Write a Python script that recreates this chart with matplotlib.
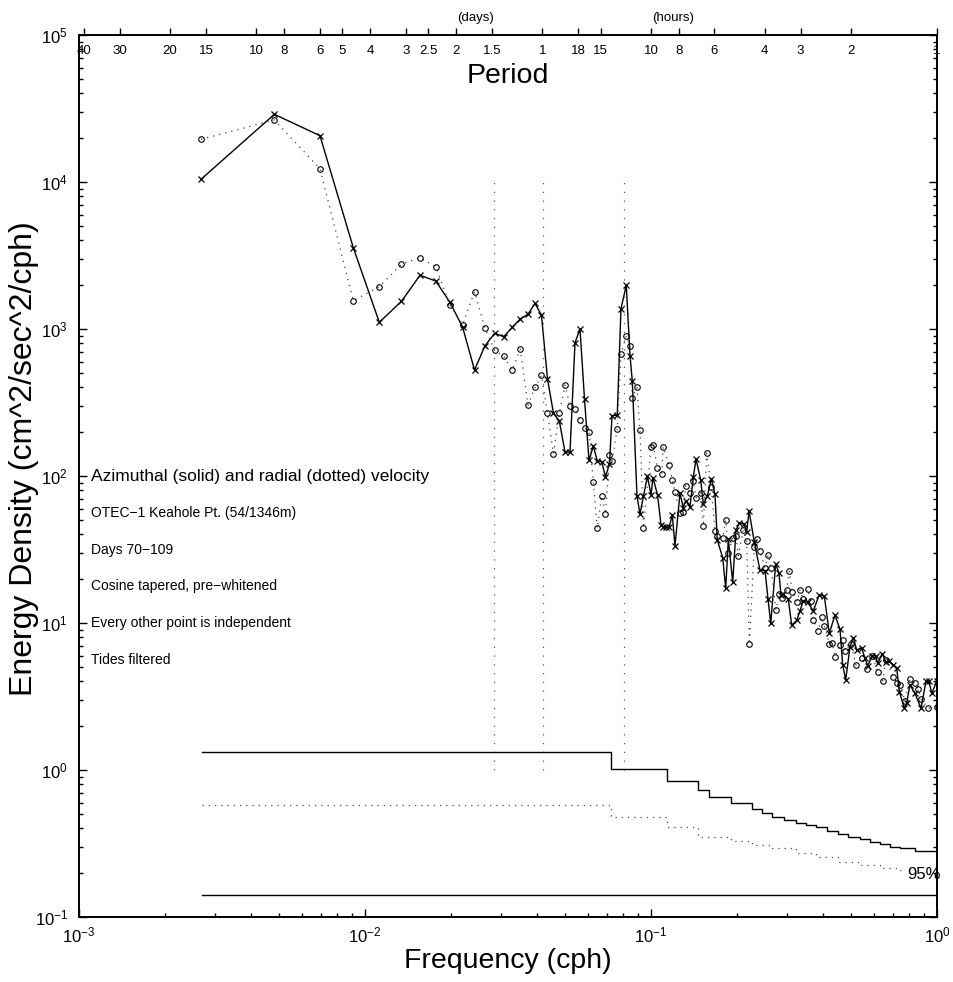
import matplotlib
matplotlib.use("Agg")
import matplotlib.pyplot as plt
from matplotlib.ticker import FixedLocator, NullLocator, NullFormatter

plt.rcParams['font.family'] = ['Liberation Sans', 'DejaVu Sans']
plt.rcParams['mathtext.fontset'] = 'custom'
plt.rcParams['mathtext.rm'] = 'Liberation Sans'
plt.rcParams['mathtext.it'] = 'Liberation Sans:italic'
plt.rcParams['mathtext.bf'] = 'Liberation Sans:bold'

# ---------------- data ----------------
# Azimuthal velocity spectrum (solid, x markers)
freq_az = [0.00267, 0.00482, 0.00696, 0.00910, 0.01122, 0.01341, 0.01557, 0.01767,
           0.01982, 0.02196, 0.02415, 0.02628, 0.02841, 0.03055, 0.03273, 0.03491,
           0.03714, 0.03930, 0.04141, 0.04346, 0.04561, 0.04779, 0.05003, 0.05209,
           0.05424, 0.05646, 0.05855, 0.06071, 0.06285, 0.06490, 0.06723, 0.06932,
           0.07159, 0.07305, 0.07621, 0.07853, 0.08196, 0.08445, 0.08602, 0.08933,
           0.09151, 0.09414, 0.0972, 0.1000, 0.1016, 0.1054, 0.1084, 0.1104, 0.1128,
           0.1159, 0.1187, 0.1213, 0.1263, 0.1297, 0.1322, 0.1369, 0.1406, 0.1437,
           0.1492, 0.1524, 0.1574, 0.1625, 0.1674, 0.1705, 0.1781, 0.1825, 0.1864,
           0.1931, 0.1982, 0.2036, 0.2114, 0.2161, 0.2202, 0.2297, 0.2404, 0.2504,
           0.2566, 0.2622, 0.2729, 0.2802, 0.2847, 0.2901, 0.3020, 0.3104, 0.3232,
           0.3319, 0.3408, 0.3531, 0.3694, 0.3868, 0.4036, 0.4201, 0.4398, 0.4580,
           0.4681, 0.4795, 0.4964, 0.5098, 0.5240, 0.5455, 0.5602, 0.5725, 0.5940,
           0.6104, 0.6203, 0.6438, 0.6617, 0.6810, 0.7035, 0.7231, 0.7384, 0.7686,
           0.7837, 0.8045, 0.8377, 0.8793, 0.9153, 0.9376, 0.9582, 0.999]
energy_az = [10430, 28870, 20650, 3574, 1111, 1543, 2319, 2121,
             1519, 1024, 526, 770, 935, 886, 1027, 1170,
             1259, 1495, 1239, 457, 267, 237, 146, 145,
             807, 1000, 333, 127.5, 160, 126.5, 125, 98.9,
             120.7, 257, 260, 1374, 1983, 658, 443, 73.1,
             55.1, 73.1, 100, 74.3, 97.4, 74.3, 46.4, 44.8, 44.8,
             45.2, 54.3, 33.6, 76.3, 60.8, 67.9, 61.8, 98.9, 130.5,
             93.9, 64.2, 73.1, 95.9, 75.1, 36.7, 27.8, 17.2, 37.1,
             18.9, 42.9, 47.7, 47.2, 41.8, 57.8, 35.7, 22.9, 22.7,
             14.5, 9.95, 25.2, 21.8, 15.5, 15.7, 14.5, 9.69, 10.4,
             12.1, 14.2, 13.8, 12.1, 15.4, 15.3, 8.51, 11.3, 9.06,
             5.18, 4.10, 6.90, 7.94, 6.55, 6.73, 5.75, 5.12, 5.97,
             5.99, 5.32, 6.15, 5.45, 5.51, 5.18, 4.92, 3.41, 2.63,
             2.87, 3.79, 3.32, 2.63, 4.03, 4.03, 3.32, 4.03]

# Radial velocity spectrum (dotted, o markers)
freq_rad = [0.00267, 0.00482, 0.00696, 0.00910, 0.01122, 0.01341, 0.01557, 0.01767,
            0.01982, 0.02196, 0.02415, 0.02628, 0.02841, 0.03055, 0.03273, 0.03491,
            0.03714, 0.03930, 0.04141, 0.04346, 0.04561, 0.04779, 0.05003, 0.05209,
            0.05424, 0.05646, 0.05855, 0.06071, 0.06285, 0.06490, 0.06723, 0.06932,
            0.07159, 0.07305, 0.07621, 0.07853, 0.08196, 0.08445, 0.08602, 0.08933,
            0.09151, 0.09414, 0.1000, 0.1019, 0.1052, 0.1090, 0.1104, 0.1159, 0.1187,
            0.1213, 0.1263, 0.1297, 0.1322, 0.1369, 0.1406, 0.1437, 0.1492, 0.1524,
            0.1566, 0.1622, 0.1674, 0.1705, 0.1781, 0.1825, 0.1864, 0.1931, 0.1982,
            0.2020, 0.2102, 0.2161, 0.2207, 0.2297, 0.2342, 0.2404, 0.2504, 0.2571,
            0.2628, 0.2736, 0.2802, 0.2864, 0.2981, 0.3044, 0.3118, 0.3247, 0.3319,
            0.3392, 0.3531, 0.3618, 0.3694, 0.3846, 0.3953, 0.4036, 0.4201, 0.4304,
            0.4398, 0.4580, 0.4681, 0.4768, 0.4993, 0.5209, 0.5455, 0.5679, 0.5940,
            0.6203, 0.6458, 0.6617, 0.7035, 0.7231, 0.7424, 0.7729, 0.8045, 0.8377,
            0.8604, 0.8793, 0.9324, 0.999]
energy_rad = [19520, 26410, 12320, 1558, 1940, 2755, 3055, 2653,
              1457, 1073, 1794, 1011, 716, 652, 526, 728,
              304, 400, 484, 267, 142, 267, 416, 299,
              285, 239, 213, 200, 91.0, 44.1, 73.4, 55.1,
              137.9, 125.9, 208.8, 676, 896, 770, 341, 400,
              207, 44.2, 158, 161.8, 113.9, 103.2, 158, 118.2, 93.9,
              77.5, 55.8, 56.6, 85.9, 77.0, 92.5, 71.2, 77.0, 45.7,
              142.7, 84.6, 42.5, 39.1, 38.0, 50.2, 29.8, 37.7, 39.3,
              28.7, 42.9, 36.1, 7.16, 32.7, 37.1, 30.9, 23.8, 29.1,
              23.8, 12.3, 15.7, 14.7, 16.8, 22.5, 16.2, 14.0, 16.8,
              14.6, 17.0, 14.2, 10.5, 8.86, 10.9, 9.54, 7.20, 7.27,
              5.90, 7.09, 7.66, 6.45, 7.16, 5.18, 5.75, 4.84, 5.97,
              4.66, 4.05, 5.60, 4.31, 3.93, 3.79, 2.96, 4.14, 3.89,
              3.54, 3.03, 2.63, 2.70]

# Confidence limits (step curves)
ci_hi_f = [0.00269, 0.0722, 0.1135, 0.1457, 0.1590, 0.1901, 0.2254, 0.2440, 0.2642,
           0.2917, 0.3224, 0.3488, 0.3776, 0.4138, 0.4518, 0.4889, 0.5401, 0.5845,
           0.6329, 0.6849, 0.7425, 0.8356, 1.0]
ci_hi = [1.32, 1.01, 0.842, 0.727, 0.652, 0.594, 0.545, 0.508, 0.479,
         0.457, 0.438, 0.422, 0.408, 0.385, 0.365, 0.352, 0.338, 0.325,
         0.314, 0.301, 0.293, 0.281, 0.281]
ci_lo_f = [0.00269, 0.0722, 0.1135, 0.1457, 0.1900, 0.2254, 0.2642, 0.3224, 0.3776,
           0.4518, 0.5401, 0.6329, 0.7425, 0.755]
ci_lo = [0.578, 0.481, 0.411, 0.352, 0.330, 0.310, 0.293, 0.271, 0.255,
         0.238, 0.226, 0.215, 0.209, 0.209]
ref_f = [0.00269, 1.0]
ref_level = [0.141, 0.141]

# Inertial, K1 and M2 frequencies (cph)
special_f = [0.0282, 0.0418, 0.0805]
special_lo, special_hi = 1.0, 1.0e4

# Period axis ticks
period_days = [40, 30, 20, 15, 10, 8, 6, 5, 4, 3, 2.5, 2, 1.5, 1]
period_hours = [18, 15, 10, 8, 6, 4, 3, 2, 1]
day_labels = ['40', '30', '20', '15', '10', '8', '6', '5', '4', '3', '2.5', '2', '1.5', '1']
hour_labels = ['18', '15', '10', '8', '6', '4', '3', '2', '1']

title_note = 'Azimuthal (solid) and radial (dotted) velocity'
notes = ['OTEC\u22121 Keahole Pt. (54/1346m)', 'Days 70\u2212109',
         'Cosine tapered, pre\u2212whitened', 'Every other point is independent',
         'Tides filtered']
note_x = 0.0011
title_note_y = 100.0
note_y = [56.2, 31.6, 17.8, 10.0, 5.62]

# ---------------- figure ----------------
W, H = 954, 982
fig = plt.figure(figsize=(W / 100, H / 100), dpi=100)
L, R, T, B = 79, 937, 35, 917
ax = fig.add_axes([L / W, (H - B) / H, (R - L) / W, (B - T) / H])
ax.set_xscale('log')
ax.set_yscale('log')
ax.set_xlim(1e-3, 1)
ax.set_ylim(1e-1, 1e5)

for s in ax.spines.values():
    s.set_linewidth(1.4)

ax.tick_params(which='both', direction='in', top=False, right=True,
               labelsize=12, width=1.0)
ax.tick_params(which='major', length=6)
ax.tick_params(which='minor', length=3)
ax.tick_params(axis='y', pad=8)
ax.tick_params(axis='x', pad=6)

# spectra
ax.plot(freq_az, energy_az, '-', color='black', lw=1.0,
        marker='x', ms=3.8, mew=0.9)
ax.plot(freq_rad, energy_rad, linestyle=(0, (1, 4)), color='0.25', lw=0.9,
        marker='o', ms=4.0, mfc='none', mec='black', mew=0.8)

# special frequency lines
for f in special_f:
    ax.plot([f, f], [special_lo, special_hi], linestyle=(0, (1, 6)),
            color='0.35', lw=0.9)

# confidence curves
ax.step(ci_hi_f, ci_hi, where='post', color='black', lw=1.0)
ax.step(ci_lo_f, ci_lo, where='post', color='0.3', lw=0.9,
        linestyle=(0, (1, 4)))
ax.plot(ref_f, ref_level, color='black', lw=1.0)
ax.text(0.785, 0.196, '95%', fontsize=12, ha='left', va='center')

# labels
ax.set_xlabel('Frequency (cph)', fontsize=20.5, labelpad=2)
ax.set_ylabel('Energy Density (cm^2/sec^2/cph)', fontsize=23)
ax.yaxis.set_label_coords(-0.047, 0.52)

ax.text(note_x, title_note_y, title_note, fontsize=12.5, ha='left', va='center')
for txt, yy in zip(notes, note_y):
    ax.text(note_x, yy, txt, fontsize=10, ha='left', va='center')

# period axis on top
ax2 = ax.twiny()
ax2.set_xscale('log')
ax2.set_xlim(ax.get_xlim())
pf = [1.0 / (d * 24.0) for d in period_days] + [1.0 / h for h in period_hours]
ax2.xaxis.set_major_locator(FixedLocator(pf))
ax2.xaxis.set_minor_locator(NullLocator())
ax2.xaxis.set_minor_formatter(NullFormatter())
ax2.set_xticklabels(day_labels + hour_labels)
ax2.tick_params(axis='x', direction='out', length=5, width=1.0,
                labelsize=9.5, pad=-21)
for s in ax2.spines.values():
    s.set_visible(False)
ax.text(0.5, 0.954, 'Period', transform=ax.transAxes, fontsize=20.5,
        ha='center', va='center')
ax.text(0.4627, 1.0198, '(days)', transform=ax.transAxes, fontsize=9.5,
        ha='center', va='center')
ax.text(0.6923, 1.0198, '(hours)', transform=ax.transAxes, fontsize=9.5,
        ha='center', va='center')

fig.savefig('out.png', dpi=100)
